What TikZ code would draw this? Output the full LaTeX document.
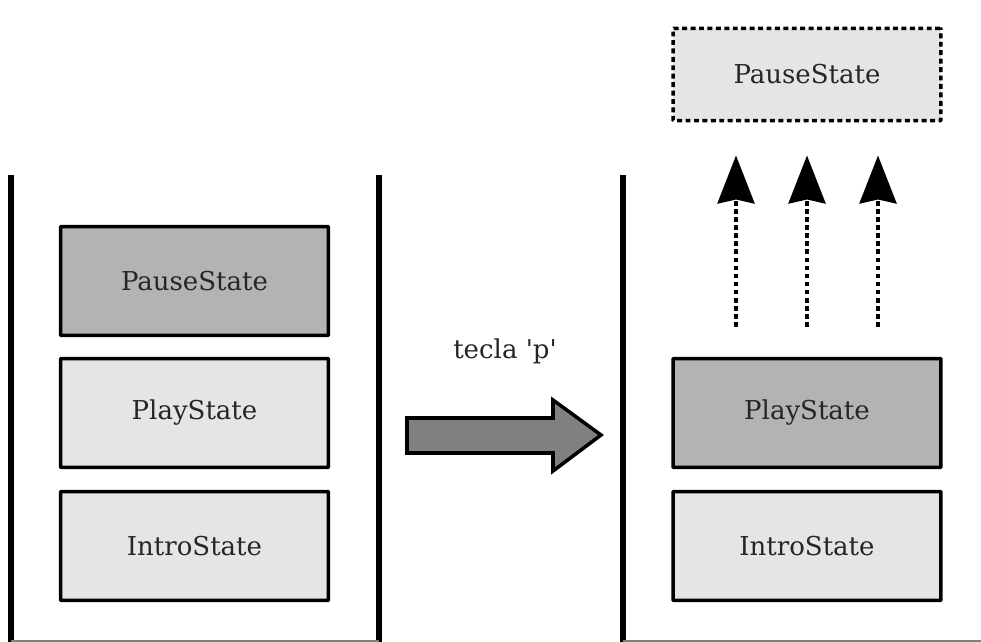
\documentclass[tikz,border=0pt]{standalone}
\usepackage{fontspec}
\setmainfont{DejaVu Serif}[Ligatures=TeXOff]
\definecolor{stategray}{HTML}{E5E5E5}
\definecolor{activegray}{HTML}{B3B3B3}
\definecolor{arrowgray}{HTML}{808080}
\definecolor{textgray}{HTML}{262626}
\usetikzlibrary{arrows.meta,positioning,calc}

\tikzset{
  statebox/.style={draw=black, line width=2pt, fill=stategray, rounded corners=0.5pt,
    minimum width=5.36cm, minimum height=2.18cm, text=textgray,
    font=\fontsize{14.8}{18}\selectfont},
  activebox/.style={statebox, fill=activegray},
  pendingbox/.style={statebox, minimum height=1.85cm, dash pattern=on 2.8pt off 2pt},
  stackwall/.style={line width=3pt},
  stackfloor/.style={line width=0.6pt, draw=gray},
  pusharrow/.style={line width=2pt, dash pattern=on 2.6pt off 2pt,
    -{Stealth[length=0.96cm, width=0.74cm, inset=0.08cm]},
    shorten <=0.6cm, shorten >=0.66cm},
}

\begin{document}
\begin{tikzpicture}[x=0.02cm, y=-0.02cm]
  \useasboundingbox (0,0) rectangle (981,642);

  % stack before the key press
  \draw[stackwall] (11,175) -- (11,642);
  \draw[stackwall] (379,175) -- (379,642);
  \draw[stackfloor] (11,641) -- (379,641);
  \node[activebox] (pause1) at (194.5,281) {PauseState};
  \node[statebox] (play1) at (194.5,413) {PlayState};
  \node[statebox] (intro1) at (194.5,546) {IntroState};

  % key press
  \node[text=textgray, font=\fontsize{14.8}{18}\selectfont] (key) at (505,351) {tecla 'p'};
  \draw[line width=2pt, fill=arrowgray, line join=miter]
    (407,418) -- (553,418) -- (553,400) -- (601,435) -- (553,471)
    -- (553,453) -- (407,453) -- cycle;

  % stack after the key press
  \draw[stackwall] (623,175) -- (623,642);
  \draw[stackfloor] (623,641) -- (981,641);
  \node[activebox] (play2) at (807,413) {PlayState};
  \node[statebox] (intro2) at (807,546) {IntroState};
  \node[pendingbox] (pause2) at (807,74.5) {PauseState};

  \foreach \x in {736,807,878}
    \draw[pusharrow] (\x,0 |- play2.north) -- (\x,0 |- pause2.south);
\end{tikzpicture}
\end{document}
